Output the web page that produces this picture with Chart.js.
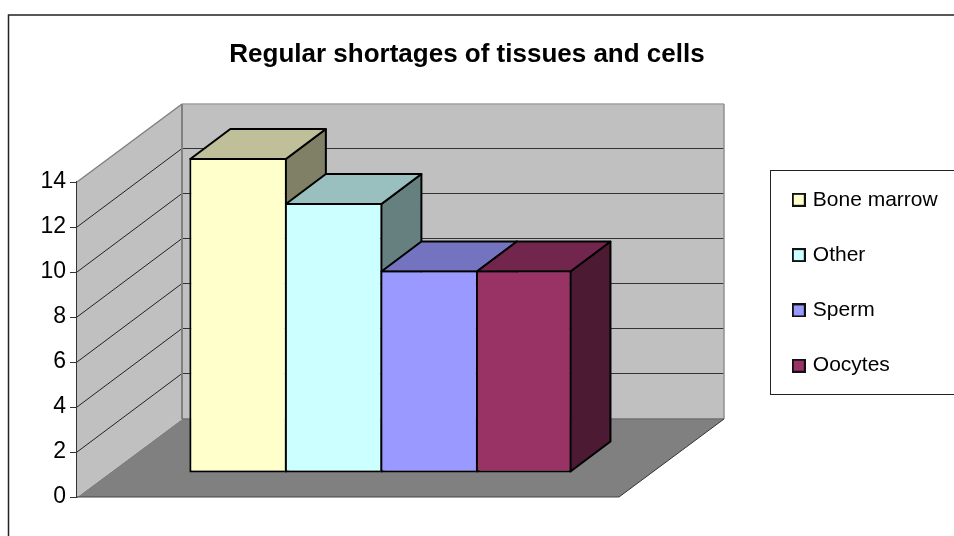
<!DOCTYPE html>
<html>
<head>
<meta charset="utf-8">
<style>
  html, body { margin: 0; padding: 0; background: #fff; overflow: hidden; }
  #wrap { width: 954px; height: 536px; }
</style>
<script src="https://cdn.jsdelivr.net/npm/chart.js@4"></script>
</head>
<body>
<div id="wrap"><canvas id="shortages"></canvas></div>
<script>
const categories = [''];
const seriesNames = ['Bone marrow', 'Other', 'Sperm', 'Oocytes'];
const seriesValues = [[14], [12], [9], [9]];
const tickValues = [0, 2, 4, 6, 8, 10, 12, 14];

const frontColors = ['#FFFFCC', '#CCFFFF', '#9999FF', '#993366'];
const topColors = ['#BFBF99', '#99BFBF', '#7373BF', '#73264D'];
const sideColors = ['#808066', '#668080', '#4D4D80', '#4D1A33'];

// Oblique projection of the 3D box
const wallDepth = { x: 105, y: -78 };
const barShift = { x: 32.4, y: -24 };  // gap between front edge of floor and bars
const barDepth = { x: 40, y: -30 };

function poly(ctx, pts, fill, stroke, lineWidth) {
  ctx.beginPath();
  pts.forEach((p, i) => (i ? ctx.lineTo(p[0], p[1]) : ctx.moveTo(p[0], p[1])));
  ctx.closePath();
  if (fill) { ctx.fillStyle = fill; ctx.fill(); }
  if (stroke) {
    ctx.strokeStyle = stroke;
    ctx.lineWidth = lineWidth;
    ctx.lineJoin = 'round';
    ctx.stroke();
  }
}

function line(ctx, x1, y1, x2, y2, color, width) {
  ctx.beginPath();
  ctx.moveTo(x1, y1);
  ctx.lineTo(x2, y2);
  ctx.strokeStyle = color;
  ctx.lineWidth = width;
  ctx.stroke();
}

// legend swatch, wider than the box Chart.js reserves so the text sits close to it
function swatch(color) {
  const c = document.createElement('canvas');
  c.width = 14;
  c.height = 14;
  const g = c.getContext('2d');
  g.fillStyle = color;
  g.fillRect(1, 1, 12, 12);
  g.strokeStyle = '#111';
  g.lineWidth = 2;
  g.strokeRect(1, 1, 12, 12);
  return c;
}

const frame3d = {
  id: 'frame3d',
  afterLayout(chart) {
    // title and legend sit outside the plot, so place them by hand
    const title = chart.titleBlock;
    title.left = 0;
    title.right = 934;
    const legend = chart.legend;
    legend.left = 761;
    legend.right = 954;
    legend.top = 155;
    legend.bottom = 536;
  },
  beforeDraw(chart) {
    const ctx = chart.ctx;
    ctx.save();
    // outer chart border, runs off the right and bottom of the picture
    ctx.strokeStyle = '#222';
    ctx.lineWidth = 1.5;
    ctx.strokeRect(8.5, 15, 960, 540);
    // legend box
    ctx.lineWidth = 1;
    ctx.strokeRect(770.5, 170.5, 200, 224);
    ctx.restore();
  },
  beforeDatasetsDraw(chart) {
    const ctx = chart.ctx;
    const { x, y } = chart.scales;
    const l = x.left, r = x.right;
    const dx = wallDepth.x, dy = wallDepth.y;
    const y0 = y.getPixelForValue(0), yMax = y.getPixelForValue(14);
    ctx.save();
    // floor
    poly(ctx, [[l, y0], [r, y0], [r + dx, y0 + dy], [l + dx, y0 + dy]], '#808080');
    // walls
    poly(ctx, [[l, y0], [l + dx, y0 + dy], [l + dx, yMax + dy], [l, yMax]], '#C0C0C0');
    poly(ctx, [[l + dx, y0 + dy], [r + dx, y0 + dy], [r + dx, yMax + dy], [l + dx, yMax + dy]], '#C0C0C0');
    // gridlines, along the side wall then the back wall
    tickValues.slice(1, -1).forEach(v => {
      const py = y.getPixelForValue(v);
      const backY = Math.round(py + dy) - 0.5;
      line(ctx, l, py, l + dx, backY, '#222', 1);
      line(ctx, l + dx, backY, r + dx, backY, '#333', 1);
    });
    // wall edges
    line(ctx, l, yMax, l + dx, yMax + dy, '#808080', 1.5);
    line(ctx, l + dx, yMax + dy, r + dx, yMax + dy, '#A0A0A0', 1.5);
    line(ctx, l + dx, yMax + dy, l + dx, y0 + dy, '#808080', 2);
    line(ctx, r + dx, yMax + dy, r + dx, y0 + dy, '#909090', 1.5);
    line(ctx, l + dx, y0 + dy, r + dx, y0 + dy, '#707070', 1.5);
    line(ctx, l, y0, r, y0, '#444', 1);
    line(ctx, r, y0, r + dx, y0 + dy, '#333', 1);

    // top and side faces, left to right so each overlaps the one before
    seriesNames.forEach((name, i) => {
      const bar = chart.getDatasetMeta(i).data[0];
      const half = bar.width / 2;
      const last = i === seriesNames.length - 1;
      // strokes land on the bar's own border; inner right edges sit on the next bar's left border
      const x1 = bar.x - half + barShift.x + 1;
      const x2 = bar.x + half + barShift.x + (last ? -1 : 1);
      const yt = bar.y + barShift.y + 1, yb = bar.base + barShift.y - 1;
      const bx = barDepth.x, by = barDepth.y;
      poly(ctx, [[x2, yt], [x2 + bx, yt + by], [x2 + bx, yb + by], [x2, yb]], sideColors[i], '#000', 2);
      poly(ctx, [[x1, yt], [x2, yt], [x2 + bx, yt + by], [x1 + bx, yt + by]], topColors[i], '#000', 2);
    });
    ctx.restore();
    // the real bars are the front faces, drawn shifted into the floor
    ctx.save();
    ctx.translate(barShift.x, barShift.y);
  },
  afterDatasetsDraw(chart) {
    chart.ctx.restore();
  }
};

const ctx = document.getElementById('shortages').getContext('2d');
new Chart(ctx, {
  type: 'bar',
  data: {
    labels: categories,
    datasets: seriesNames.map((name, i) => ({
      label: name,
      data: seriesValues[i],
      backgroundColor: frontColors[i],
      borderColor: '#000',
      // neighbours share one seam line
      borderWidth: { top: 2, right: i === seriesNames.length - 1 ? 2 : 0, bottom: 2, left: 2 },
      borderSkipped: false,
      clip: false,
      categoryPercentage: 0.705,
      barPercentage: 1
    }))
  },
  options: {
    responsive: true,
    maintainAspectRatio: false,
    animation: false,
    events: [],
    layout: { padding: { left: 0, right: 335, top: 0, bottom: 39 } },
    scales: {
      x: { display: false },
      y: {
        min: 0,
        max: 14,
        afterBuildTicks(scale) { scale.ticks = tickValues.map(v => ({ value: v })); },
        afterFit(scale) { scale.width = 77; },
        border: { display: true, color: '#333', width: 1.5 },
        grid: { drawOnChartArea: false, drawTicks: true, tickLength: 7, color: '#333', lineWidth: 1 },
        ticks: {
          color: '#000',
          padding: 4,
          font: { family: '"Liberation Sans", Arial, sans-serif', size: 23 }
        }
      }
    },
    plugins: {
      title: {
        display: true,
        text: 'Regular shortages of tissues and cells',
        color: '#000',
        font: { family: '"Liberation Sans", Arial, sans-serif', size: 26, weight: 'bold' },
        padding: { top: 39, bottom: 111.8 }
      },
      legend: {
        position: 'chartArea',
        align: 'start',
        labels: {
          color: '#000',
          usePointStyle: true,
          pointStyleWidth: 7,
          padding: 34.3,
          font: { family: '"Liberation Sans", Arial, sans-serif', size: 21 },
          generateLabels() {
            return seriesNames.map((name, i) => ({
              text: name,
              fontColor: '#000',
              pointStyle: swatch(frontColors[i]),
              datasetIndex: i
            }));
          }
        }
      },
      tooltip: { enabled: false }
    }
  },
  plugins: [frame3d]
});
</script>
</body>
</html>
